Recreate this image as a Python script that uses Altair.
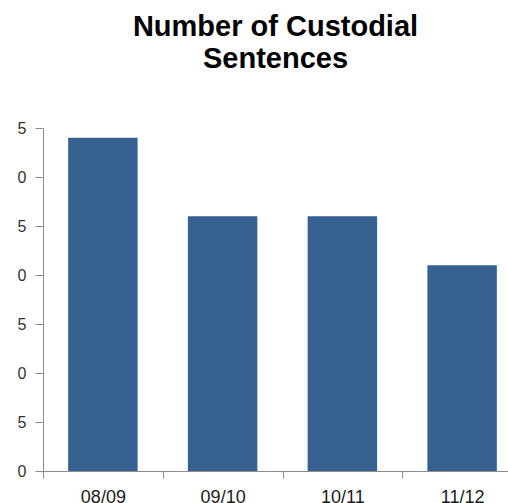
import altair as alt
import pandas as pd

# Custodial sentences per financial year
years = ["08/09", "09/10", "10/11", "11/12"]
sentences = [34, 26, 26, 21]
y_ticks = [0, 5, 10, 15, 20, 25, 30, 35]

df = pd.DataFrame({"year": years, "sentences": sentences})

AXIS_GREY = "#8C8C8C"
FONT = "Liberation Sans"

bars = (
    alt.Chart(df)
    .mark_bar(color="#36608F", width={"band": 0.58})
    .encode(
        x=alt.X(
            "year:N",
            sort=years,
            title=None,
            scale=alt.Scale(range=[0, 479], paddingInner=0, paddingOuter=0),
            axis=alt.Axis(
                labelAngle=0,
                tickBand="extent",
                tickSize=7,
                labelPadding=10,
                labelFont=FONT,
                labelFontSize=18,
                labelColor="#1A1A1A",
                domainColor=AXIS_GREY,
                tickColor=AXIS_GREY,
                grid=False,
            ),
        ),
        y=alt.Y(
            "sentences:Q",
            title=None,
            scale=alt.Scale(domain=[0, 35], nice=False, zero=True),
            axis=alt.Axis(
                values=y_ticks,
                labelExpr="'' + (datum.value % 10)",
                tickSize=8,
                labelPadding=9,
                labelFont=FONT,
                labelFontSize=16,
                labelColor="#333333",
                domainColor=AXIS_GREY,
                tickColor=AXIS_GREY,
                grid=False,
            ),
        ),
    )
)

chart = (
    bars.properties(
        width=465,
        height=343,
        title=alt.TitleParams(
            text=["Number of Custodial", "Sentences"],
            font=FONT,
            fontSize=29,
            fontWeight="bold",
            color="#000000",
            lineHeight=32,
            anchor="middle",
            offset=46,
        ),
        autosize=alt.AutoSizeParams(type="none"),
        padding={"left": 43, "top": 128, "right": 0, "bottom": 32},
    )
    .configure(background="white")
    .configure_view(stroke=None)
)

chart.save("out.html", embed_options={"renderer": "svg", "actions": False})
